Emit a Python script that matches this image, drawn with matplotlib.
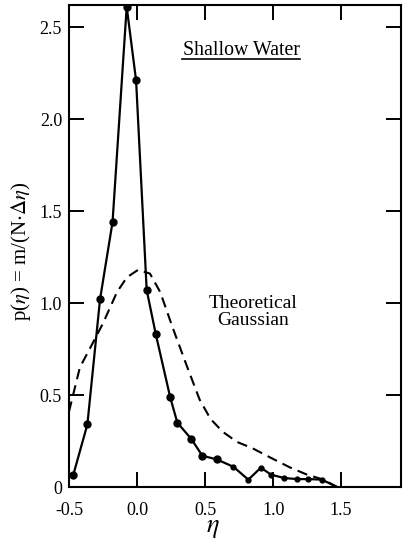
import matplotlib
matplotlib.use("Agg")
import matplotlib.pyplot as plt

# Measured histogram (solid line with dots)
eta_meas = [-0.468, -0.365, -0.272, -0.18, -0.076, -0.007, 0.071, 0.138, 0.243, 0.296,
            0.40, 0.48, 0.586, 0.708, 0.818, 0.91, 0.985, 1.08, 1.174, 1.26, 1.358]
p_meas = [0.067, 0.34, 1.02, 1.44, 2.61, 2.21, 1.07, 0.83, 0.49, 0.35,
          0.26, 0.17, 0.15, 0.11, 0.04, 0.105, 0.067, 0.049, 0.043, 0.043, 0.04]
eta_end = [1.358, 1.47]
p_end = [0.04, 0.0]

# Theoretical curve (dashed)
eta_theo = [-0.5, -0.42, -0.32, -0.25, -0.147, -0.074, 0.007, 0.095, 0.17, 0.265,
            0.37, 0.46, 0.54, 0.63, 0.735, 0.85, 0.98, 1.125, 1.25, 1.37, 1.47]
p_theo = [0.41, 0.65, 0.79, 0.89, 1.06, 1.14, 1.18, 1.16, 1.06, 0.86,
          0.65, 0.475, 0.37, 0.30, 0.245, 0.21, 0.16, 0.106, 0.067, 0.04, 0.0]

xticks = [-0.5, 0.0, 0.5, 1.0, 1.5]
xticklabels = ["-0.5", "0.0", "0.5", "1.0", "1.5"]
yticks = [0, 0.5, 1.0, 1.5, 2.0, 2.5]
yticklabels = ["0", "0.5", "1.0", "1.5", "2.0", "2.5"]

plt.rcParams['font.family'] = ['Liberation Serif', 'DejaVu Serif']
plt.rcParams['mathtext.fontset'] = 'stix'

fig = plt.figure(figsize=(4.03, 5.44), dpi=100)
ax = fig.add_axes([69/403, 57/544, 332/403, 482/544])

ax.plot(eta_theo, p_theo, color='black', lw=1.5, linestyle=(0, (5, 3)), clip_on=True)
ax.plot(eta_meas[:13], p_meas[:13], color='black', lw=1.6, marker='o', ms=5, clip_on=True)
ax.plot(eta_meas[12:], p_meas[12:], color='black', lw=1.6, marker='o', ms=3.5, clip_on=True)
ax.plot(eta_end, p_end, color='black', lw=1.6)

ax.set_xlim(-0.5, 1.94)
ax.set_ylim(0, 2.62)
ax.set_xticks(xticks)
ax.set_xticklabels(xticklabels, fontsize=13)
ax.set_yticks(yticks)
ax.set_yticklabels(yticklabels, fontsize=13)
ax.tick_params(direction='in', length=11, width=1.4, top=True, right=True)
ax.tick_params(axis='y', pad=5)
ax.tick_params(axis='x', pad=11)
for s in ax.spines.values():
    s.set_linewidth(1.5)

fig.text(213 / 403, 1 - 529 / 544, r'$\eta$', fontsize=19, ha='center', va='center')
fig.text(21 / 403, 1 - 251 / 544, r'p($\eta$) = m/(N$\cdot\Delta\eta$)', fontsize=15,
         rotation=90, ha='center', va='center')

ax.text(0.765, 2.35, 'Shallow Water', fontsize=14.3, ha='center', va='baseline')
ax.plot([0.331, 1.199], [2.325, 2.325], color='black', lw=1.2)
ax.text(0.853, 0.86, 'Theoretical\nGaussian', fontsize=14, ha='center', va='bottom',
        linespacing=1.0)

fig.savefig('out.png', dpi=100)
